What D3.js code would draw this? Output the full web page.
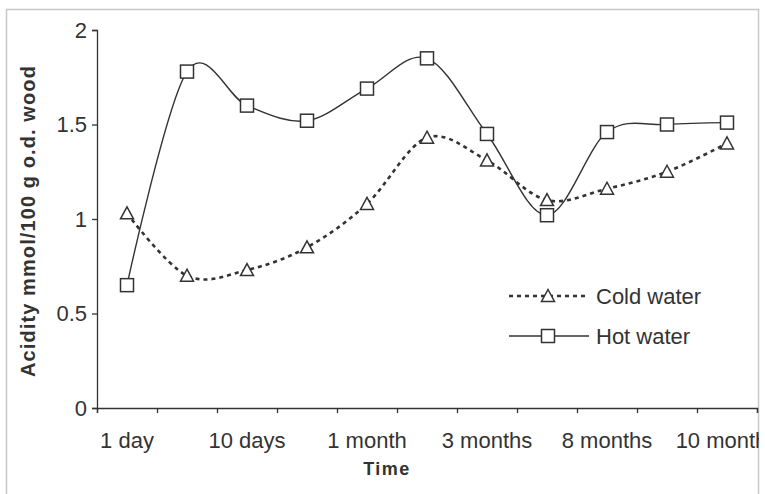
<!DOCTYPE html>
<html>
<head>
<meta charset="utf-8">
<script src="https://cdn.jsdelivr.net/npm/d3@7"></script>
<style>
  body { margin: 0; background: #fff; }
  svg text { font-family: "Liberation Sans", Arial, sans-serif; fill: #333; }
</style>
</head>
<body>
<script>
// data
var categories = ["1 day", "3 days", "10 days", "20 days", "1 month", "2 months",
  "3 months", "6 months", "8 months", "9 months", "10 months"];
var tickLabels = ["1 day", "", "10 days", "", "1 month", "", "3 months", "", "8 months", "", "10 months"];
var coldWater = [1.03, 0.70, 0.73, 0.85, 1.08, 1.43, 1.31, 1.10, 1.16, 1.25, 1.40];
var hotWater = [0.65, 1.78, 1.60, 1.52, 1.69, 1.85, 1.45, 1.02, 1.46, 1.50, 1.51];
var yTicks = [0, 0.5, 1, 1.5, 2];

var w = 765, h = 494;
var plotLeft = 97, plotRight = 757, plotTop = 30, plotBottom = 408;
var ink = '#333';

var svg = d3.select('body')
  .append('svg')
  .attr('width', w)
  .attr('height', h);

svg.append('defs').append('clipPath')
  .attr('id', 'chartclip')
  .append('rect')
  .attr('x', 6).attr('y', 9).attr('width', 753).attr('height', 500);

// chart border
svg.append('rect')
  .attr('x', 6.5).attr('y', 9.5)
  .attr('width', 752).attr('height', 500)
  .attr('fill', 'none')
  .attr('stroke', '#c8c8c8')
  .attr('stroke-width', 1.5);

// SCALES
var xScale = d3.scaleLinear()
  .domain([0, categories.length])
  .range([plotLeft, plotRight]);

var yScale = d3.scaleLinear()
  .domain([0, 2])
  .range([plotBottom, plotTop]);

// AXES
var yAxis = d3.axisLeft(yScale)
  .tickValues(yTicks)
  .tickSize(5)
  .tickPadding(5)
  .tickFormat(d => String(d));

var gy = svg.append('g')
  .attr('transform', `translate(${plotLeft},0)`)
  .call(yAxis);
gy.selectAll('text').style('font-size', '22px');

var xAxis = d3.axisBottom(xScale)
  .tickValues(d3.range(categories.length + 1))
  .tickSize(5)
  .tickFormat('');

var gx = svg.append('g')
  .attr('transform', `translate(0,${plotBottom})`)
  .call(xAxis);

[gx, gy].forEach(g => {
  g.select('.domain').attr('stroke', ink).attr('stroke-width', 1.3);
  g.selectAll('.tick line').attr('stroke', ink).attr('stroke-width', 1.3);
});

// category labels (every other one is shown)
svg.append('g')
  .attr('clip-path', 'url(#chartclip)')
  .selectAll('text')
  .data(tickLabels)
  .enter()
  .append('text')
    .attr('x', (d, i) => xScale(i + 0.5))
    .attr('y', 448)
    .attr('text-anchor', 'middle')
    .style('font-size', '22px')
    .text(d => d);

// axis titles
svg.append('text')
  .attr('transform', 'translate(35,221)rotate(-90)')
  .attr('text-anchor', 'middle')
  .style('font-size', '20px')
  .style('font-weight', 'bold')
  .style('letter-spacing', '1.1px')
  .text('Acidity mmol/100 g  o.d. wood');

svg.append('text')
  .attr('x', 387)
  .attr('y', 475)
  .attr('text-anchor', 'middle')
  .style('font-size', '18px')
  .style('font-weight', 'bold')
  .style('letter-spacing', '1.5px')
  .text('Time');

// LINES
var line = d3.line()
  .x((d, i) => xScale(i + 0.5))
  .y(d => yScale(d))
  .curve(d3.curveCardinal.tension(0));

svg.append('path')
  .datum(coldWater)
  .attr('d', line)
  .attr('fill', 'none')
  .attr('stroke', ink)
  .attr('stroke-width', 2.6)
  .attr('stroke-dasharray', '4,4');

svg.append('path')
  .datum(hotWater)
  .attr('d', line)
  .attr('fill', 'none')
  .attr('stroke', ink)
  .attr('stroke-width', 1.4);

// MARKERS
function triangle(g, x, y) {
  g.append('path')
    .attr('d', 'M0,-6.5L6.5,5.5L-6.5,5.5Z')
    .attr('transform', `translate(${x},${y})`)
    .attr('fill', '#fff')
    .attr('stroke', ink)
    .attr('stroke-width', 1.5);
}

function square(g, x, y) {
  g.append('rect')
    .attr('x', x - 6.5).attr('y', y - 6.5)
    .attr('width', 13).attr('height', 13)
    .attr('fill', '#fff')
    .attr('stroke', ink)
    .attr('stroke-width', 1.5);
}

var marks = svg.append('g');
coldWater.forEach((d, i) => triangle(marks, xScale(i + 0.5), yScale(d)));
hotWater.forEach((d, i) => square(marks, xScale(i + 0.5), yScale(d)));

// LEGEND
var legend = svg.append('g');
legend.append('line')
  .attr('x1', 509).attr('x2', 587).attr('y1', 296).attr('y2', 296)
  .attr('stroke', ink).attr('stroke-width', 2.6).attr('stroke-dasharray', '4,4');
triangle(legend, 548, 296);
legend.append('text')
  .attr('x', 596).attr('y', 304)
  .style('font-size', '22px')
  .text('Cold water');

legend.append('line')
  .attr('x1', 509).attr('x2', 589).attr('y1', 336).attr('y2', 336)
  .attr('stroke', ink).attr('stroke-width', 1.4);
square(legend, 548, 336);
legend.append('text')
  .attr('x', 596).attr('y', 344)
  .style('font-size', '22px')
  .text('Hot water');
</script>
</body>
</html>
